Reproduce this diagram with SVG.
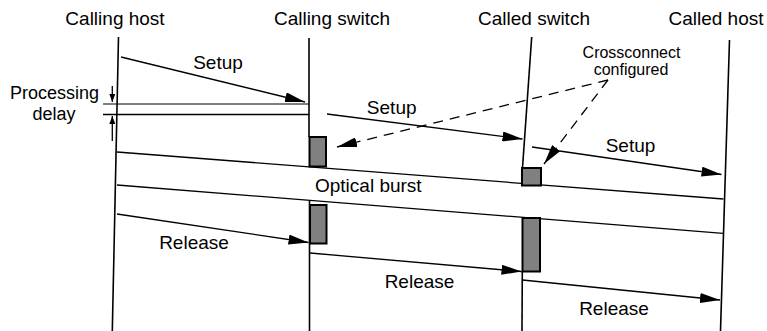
<svg xmlns="http://www.w3.org/2000/svg" width="767" height="331" viewBox="0 0 767 331">
  <style>
    text { font-family: "Liberation Sans", Arial, Helvetica, sans-serif; fill: #000; }
    .t { font-size: 19px; text-anchor: middle; }
    .p { font-size: 18px; text-anchor: middle; }
    .s { font-size: 16px; text-anchor: middle; }
    .life { stroke: #000; stroke-width: 1.6; fill: none; }
    .msg { stroke: #000; stroke-width: 1.3; fill: none; }
    .dash { stroke: #000; stroke-width: 1.3; fill: none; stroke-dasharray: 10 7; }
    .box { fill: #808080; stroke: #000; stroke-width: 2; }
  </style>
  <defs>
    <marker id="ah" viewBox="0 0 20 10" refX="20" refY="5" markerWidth="20" markerHeight="10" markerUnits="userSpaceOnUse" orient="auto">
      <path d="M0,0 L20,5 L0,10 z" fill="#000"/>
    </marker>
    <marker id="sh" viewBox="0 0 8 6" refX="8" refY="3" markerWidth="8" markerHeight="6" markerUnits="userSpaceOnUse" orient="auto">
      <path d="M0,0 L8,3 L0,6 z" fill="#000"/>
    </marker>
  </defs>
  <rect width="767" height="331" fill="#fff"/>

  <g id="calling-host">
    <text class="t" x="115" y="24.5">Calling host</text>
    <line class="life" x1="118.5" y1="37" x2="112.3" y2="331"/>
  </g>
  <g id="calling-switch">
    <text class="t" x="332" y="24.5">Calling switch</text>
    <line class="life" x1="309" y1="38" x2="309" y2="137"/>
    <line class="life" x1="309.5" y1="200" x2="309.5" y2="331"/>
  </g>
  <g id="called-switch">
    <text class="t" x="534" y="24.5">Called switch</text>
    <line class="life" x1="531.7" y1="37" x2="522.5" y2="168"/>
    <line class="life" x1="522.3" y1="271" x2="522" y2="331"/>
  </g>
  <g id="called-host">
    <text class="t" x="716" y="24.5">Called host</text>
    <line class="life" x1="729.5" y1="40" x2="720.5" y2="331"/>
  </g>

  <g id="processing-delay">
    <text class="p" x="54.5" y="98.5">Processing</text>
    <text class="p" x="54" y="119.5">delay</text>
    <line x1="103" y1="104" x2="309" y2="104" stroke="#000" stroke-width="1"/>
    <line x1="103" y1="114.5" x2="309" y2="114.5" stroke="#000" stroke-width="1.6"/>
    <line class="msg" x1="112.3" y1="86" x2="112.3" y2="102" marker-end="url(#sh)"/>
    <line class="msg" x1="112.3" y1="141" x2="112.3" y2="116" marker-end="url(#sh)"/>
  </g>

  <g id="crossconnect-note">
    <text class="s" x="631.5" y="57.5">Crossconnect</text>
    <text class="s" x="631" y="75">configured</text>
  </g>

  <g id="connectors">
    <line class="msg" x1="121" y1="57" x2="305" y2="102" marker-end="url(#ah)"/>
    <line class="msg" x1="327" y1="114" x2="522.5" y2="139" marker-end="url(#ah)"/>
    <line class="msg" x1="532" y1="147" x2="721.5" y2="174.5" marker-end="url(#ah)"/>
    <line class="msg" x1="117" y1="152" x2="723.5" y2="199"/>
    <line class="msg" x1="117" y1="185" x2="723" y2="233.3"/>
    <line class="msg" x1="117" y1="214" x2="308.5" y2="242.5" marker-end="url(#ah)"/>
    <line class="msg" x1="310" y1="253" x2="521.5" y2="271.5" marker-end="url(#ah)"/>
    <line class="msg" x1="522.5" y1="280" x2="720" y2="300" marker-end="url(#ah)"/>
    <line class="dash" x1="608" y1="80" x2="337" y2="147" marker-end="url(#ah)"/>
    <line class="dash" x1="608" y1="80" x2="544" y2="164" marker-end="url(#ah)"/>
  </g>

  <g id="switch-boxes">
    <rect class="box" x="309.5" y="137" width="16.5" height="29.5"/>
    <rect class="box" x="310" y="205" width="16.5" height="38.5"/>
    <rect class="box" x="522" y="168" width="19" height="17.5"/>
    <rect class="box" x="522.5" y="218" width="17.5" height="53.5"/>
  </g>

  <g id="labels">
    <text class="t" x="218" y="68.5">Setup</text>
    <text class="t" x="391.7" y="113.5">Setup</text>
    <text class="t" x="630.5" y="151.7">Setup</text>
    <text class="t" x="368.3" y="191.7">Optical burst</text>
    <text class="t" x="194" y="249">Release</text>
    <text class="t" x="419.5" y="288">Release</text>
    <text class="t" x="614" y="315">Release</text>
  </g>
</svg>
